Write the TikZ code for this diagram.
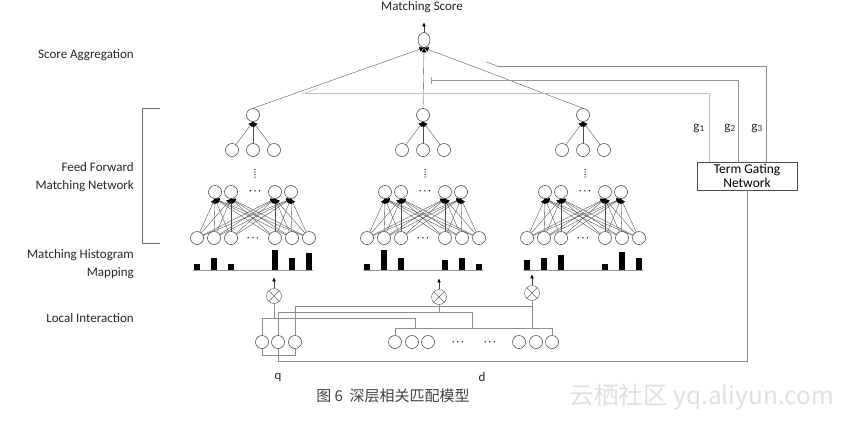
\documentclass[tikz,border=0pt]{standalone}
\usepackage{fontspec}
\setmainfont{Carlito}
\newfontfamily\cjk{Noto Sans CJK SC}
\usetikzlibrary{shapes.geometric, arrows.meta, positioning, calc}
\tikzset{
    unit/.style={circle, draw=black!80, line width=0.5pt, minimum size=13pt, inner sep=0pt},
    score unit/.style={ellipse, draw=black!80, line width=0.5pt, minimum width=12pt, minimum height=15pt, inner sep=0pt},
    mult/.style={circle, draw=black!60, line width=0.5pt, minimum size=15pt, inner sep=0pt,
        path picture={\draw[black!60] (path picture bounding box.south west) -- (path picture bounding box.north east)
            (path picture bounding box.north west) -- (path picture bounding box.south east);}},
    feed/.style={-{Latex[length=4.5pt, width=5pt, black]}, draw=black!70, line width=0.35pt},
    small arrow/.style={-{Latex[length=4pt, width=3.5pt, black]}, draw=black!75, line width=0.5pt},
    wire/.style={draw=black!45, line width=0.6pt},
    gate line/.style={draw=black!45, line width=0.6pt},
    histo axis/.style={draw=black!40, line width=0.5pt},
    bar/.style={fill=black},
    dots/.style={font=\fontsize{9}{9}\selectfont\boldmath, inner sep=0pt},
    layer label/.style={font=\fontsize{13}{17.5}\selectfont, text=black!85, align=right, anchor=east, inner sep=0pt},
    plain text/.style={font=\fontsize{13}{15}\selectfont, text=black!85, inner sep=0pt},
    gate box/.style={rectangle, draw=black!70, line width=0.5pt, minimum width=100pt, minimum height=28pt, inner sep=0pt, align=center, font=\fontsize{13.5}{14}\selectfont}
}
\begin{document}
\begin{tikzpicture}[x=1pt, y=-1pt]
    \useasboundingbox (0,0) rectangle (851,421);

    % Layer labels
    \node[layer label] (lab score) at (134,55) {Score Aggregation};
    \node[layer label] (lab ffmn) at (134,177) {Feed Forward\\Matching Network};
    \node[layer label] (lab hist) at (134,264) {Matching Histogram\\Mapping};
    \node[layer label] (lab local) at (134,318) {Local Interaction};
    \draw[black!60, line width=0.6pt] (160,108) -- (142,108) -- (142,243) -- (160,243);

    % Score aggregation
    \node[score unit] (score) at (424,40) {};
    \node[plain text] (score text) at (422,7) {Matching Score};
    \draw[small arrow] (score.north) -- ++(0,-10);

    % Feed forward matching networks
    \foreach \c/\n/\hs in {253/1/{6,12,6,20,12,17}, 423/2/{6,20,12,10,12,6}, 583/3/{10,12,15,6,18,12}}{
        \draw[histo axis] (\c-60,270) -- (\c+60,270);
        \foreach \dx [count=\j] in {-56,-39,-22,22,39,56}
            \node[unit] (b\n-\j) at (\c+\dx,238) {};
        \foreach \h [count=\j] in \hs
            \fill[bar] (b\n-\j) ++(-3.25,32) rectangle ++(6.5,-\h);
        \foreach \dx [count=\i] in {-38,-22,22,38}
            \node[unit] (h\n-\i) at (\c+\dx,192) {};
        \foreach \dx [count=\k] in {-21,0,21}
            \node[unit] (t\n-\k) at (\c+\dx,150) {};
        \node[unit] (top\n) at (\c,115) {};
        % vertical dots between the layers
        \foreach \yy in {169.5,172,174.5,177}
            \fill[black!80] (\c+2,\yy) circle (0.75);
        \node[dots] (hd\n) at (\c+2,191) {$\cdots$};
        \node[dots] (bd\n) at (\c,238) {$\cdots$};
        \foreach \i in {1,...,4}
            \foreach \j in {1,...,6}
                \draw[feed] (b\n-\j) -- (h\n-\i.south);
        \foreach \k in {1,2,3}
            \draw[feed] (t\n-\k) -- (top\n.south);
        \draw[feed] (top\n.north) -- (score.south);
    }

    % Term gating
    \node[gate box] (gating) at (747,176) {Term Gating\\Network};
    \coordinate (g1t) at (709,93);
    \coordinate (g2t) at (738,80);
    \coordinate (g3t) at (766,66);
    \coordinate (g1e) at (305,93);
    \coordinate (g2e) at (431,80);
    \coordinate (g3e) at (497,66);
    \draw[gate line, black!25] (gating.north -| g1t) -- (g1t) -- (g1e);
    \draw[gate line, black!25] (g1e) ++(-4,1.4) -- ++(16,-5.7);
    \draw[gate line, black!40] (gating.north -| g2t) -- (g2t) -- (g2e);
    \draw[gate line, black!40] (g2e) ++(0,-3.5) -- ++(0,7);
    \draw[gate line] (gating.north -| g3t) -- (g3t) -- (g3e);
    \draw[gate line] (g3e) -- ++(-11,-4.2);
    \node[plain text] (g1) at (699,128) {g\textsubscript{1}};
    \node[plain text] (g2) at (730,128) {g\textsubscript{2}};
    \node[plain text] (g3) at (757,128) {g\textsubscript{3}};

    % Local interaction
    \foreach \x [count=\i] in {262,278,295}
        \node[unit] (q\i) at (\x,342) {};
    \foreach \x [count=\i] in {395,412,428,519,536,552}
        \node[unit] (d\i) at (\x,342) {};
    \node[dots] (dd1) at (458,342) {$\cdots$};
    \node[dots] (dd2) at (490,342) {$\cdots$};
    \node[plain text] (q lab) at (278,377) {q};
    \node[plain text] (d lab) at (482,377) {d};
    \node[mult] (m1) at (274,296) {};
    \node[mult] (m2) at (439,297) {};
    \node[mult] (m3) at (532,293) {};
    \coordinate (j1) at (415,318);
    \coordinate (j2) at (472,312);
    \coordinate (j3) at (532,306);
    \coordinate (dbus) at (0,328.5);
    \coordinate (qb) at (278,361);
    \draw[wire] (d1.north) -- ++(0,-7) -| (d6.north);
    \draw[wire] (q1.north) |- (j1) -- (j1 |- dbus);
    \draw[wire] (q2.north) |- (j2) -- (j2 |- dbus);
    \draw[wire] (q3.north) |- (j3) -- (j3 |- dbus);
    \draw[wire] (m1) -- (m1 |- j1);
    \draw[wire] (m2) -- (m2 |- j2);
    \draw[wire] (m3) -- (m3 |- j3);
    \draw[wire] (q1.south) -- ++(0,7) -| (q3.south);
    \draw[wire] (gating.south) |- (qb) -- (q2.south);
    \foreach \i in {1,2,3}
        \draw[small arrow] (m\i.north) -- ++(0,-11);

    % Caption
    \node[font=\cjk\fontsize{15}{17}\selectfont, text=black!75, inner sep=0pt] (caption) at (393,396) {图 6\ \ 深层相关匹配模型};
    \node[font=\cjk\fontsize{24.5}{26}\selectfont, text=black!12, inner sep=0pt] (mark) at (702,397) {云栖社区 yq.aliyun.com};
\end{tikzpicture}
\end{document}
